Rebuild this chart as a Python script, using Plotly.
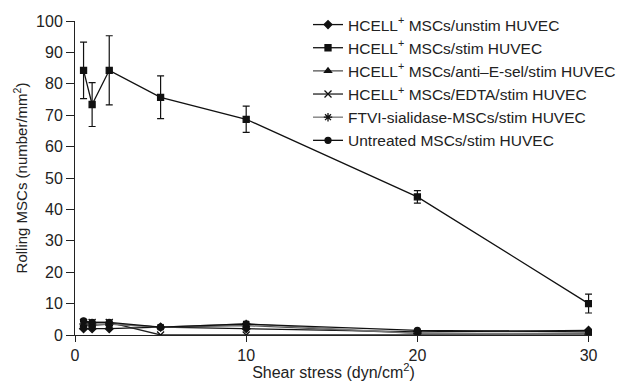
import plotly.graph_objects as go

shear = [0.5, 1, 2, 5, 10, 20, 30]

unstim = [2.0, 2.0, 2.0, 2.5, 2.0, 1.0, 1.5]
stim = [84.3, 73.4, 84.3, 75.7, 68.7, 44, 10]
stim_err = [9, 7, 11, 6.8, 4.2, 2, 3]
anti_esel = [3.0, 3.0, 3.5, 2.5, 3.0, 0.5, 0.5]
edta = [4.0, 4.0, 4.0, 0.0, 0.0, 0.0, 0.0]
ftvi = [3.5, 3.5, 3.5, 2.5, 3.5, 0.5, 0.3]
untreated = [4.5, 4.0, 4.0, 2.5, 3.5, 1.5, 1.0]

names = [
    "HCELL<sup>+</sup> MSCs/unstim HUVEC",
    "HCELL<sup>+</sup> MSCs/stim HUVEC",
    "HCELL<sup>+</sup> MSCs/anti\u2013E-sel/stim HUVEC",
    "HCELL<sup>+</sup> MSCs/EDTA/stim HUVEC",
    "FTVI-sialidase-MSCs/stim HUVEC",
    "Untreated MSCs/stim HUVEC",
]

series = [unstim, stim, anti_esel, edta, ftvi, untreated]
symbols = ["diamond", "square", "triangle-up", "x-thin-open", "asterisk-open", "circle"]
sizes = [6, 6, 6, 7, 7, 6]
line_colors = ["#111111", "#111111", "#555555", "#222222", "#777777", "#111111"]

fig = go.Figure()
for i, (nm, ys, sym, sz, lc) in enumerate(zip(names, series, symbols, sizes, line_colors)):
    kw = {}
    if i == 1:
        kw["error_y"] = dict(type="data", array=stim_err, visible=True,
                             color="#111111", thickness=1.2, width=3.5)
    fig.add_trace(go.Scatter(
        x=shear, y=ys, name=nm, mode="lines+markers",
        line=dict(color=lc, width=1.3),
        marker=dict(symbol=sym, size=sz, color="#111111",
                    line=dict(color="#111111", width=1.3)),
        **kw,
    ))

font = dict(family="Liberation Sans, Arial, sans-serif", size=16, color="#222222")

fig.update_layout(
    width=618, height=373,
    margin=dict(l=67, r=34, t=13, b=46, autoexpand=False),
    paper_bgcolor="white", plot_bgcolor="white",
    font=font,
    showlegend=True,
    legend=dict(x=0.4507, y=1.0, xref="paper", yref="container",
                xanchor="left", yanchor="top",
                bgcolor="rgba(0,0,0,0)", font=dict(size=15.5),
                tracegroupgap=0),
)
fig.update_xaxes(range=[0, 30.2], tickvals=[0, 10, 20, 30], showline=True,
                 linecolor="#222222", linewidth=1, ticks="outside", ticklen=6,
                 tickcolor="#222222", showgrid=False, zeroline=False,
                 title=dict(text="Shear stress (dyn/cm<sup>2</sup>)", standoff=4,
                            font=dict(size=16)),
                 tickfont=dict(size=16))
fig.update_yaxes(range=[0, 100], tickvals=list(range(0, 101, 10)), showline=True,
                 linecolor="#222222", linewidth=1, ticks="outside", ticklen=8,
                 tickcolor="#222222", showgrid=False, zeroline=False,
                 title=dict(text="Rolling MSCs (number/mm<sup>2</sup>)", standoff=4,
                            font=dict(size=15)),
                 tickfont=dict(size=16))

fig.write_html("out.html")
